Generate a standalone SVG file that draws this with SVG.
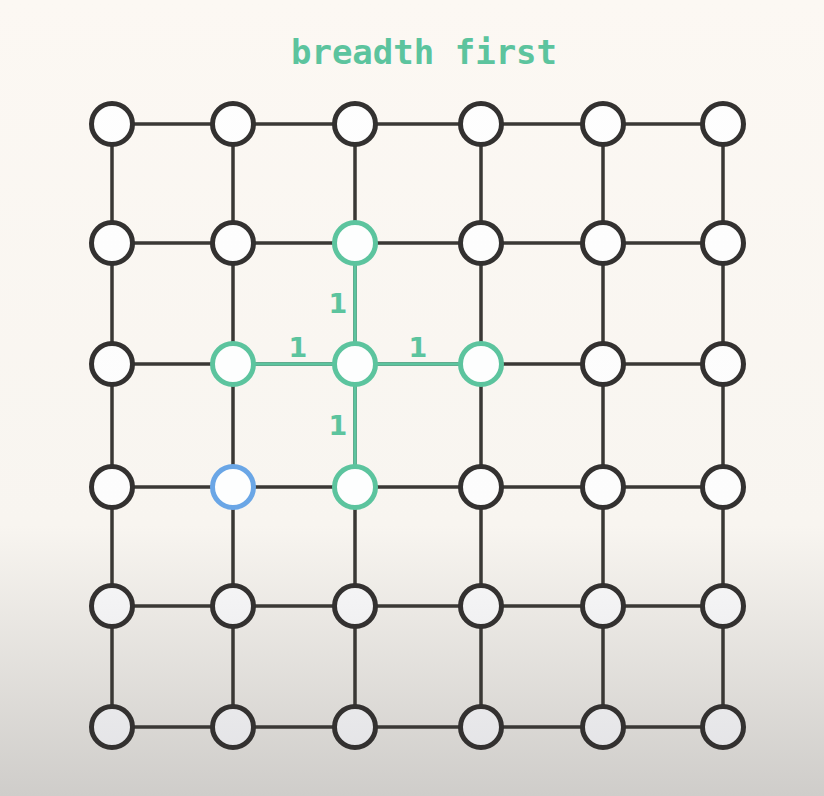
<svg xmlns="http://www.w3.org/2000/svg" width="824" height="796" viewBox="0 0 824 796">
<defs>
<linearGradient id="bg" x1="0" y1="0" x2="0" y2="796" gradientUnits="userSpaceOnUse">
<stop offset="0" stop-color="#fcf8f3"/>
<stop offset="0.66" stop-color="#f8f5f0"/>
<stop offset="1" stop-color="#cfcdca"/>
</linearGradient>
<linearGradient id="nf" x1="0" y1="0" x2="0" y2="796" gradientUnits="userSpaceOnUse">
<stop offset="0" stop-color="#fefefe"/>
<stop offset="0.64" stop-color="#fcfcfc"/>
<stop offset="1" stop-color="#e0e0e3"/>
</linearGradient>
</defs>
<style>
.e{stroke:#3a3835;stroke-width:3.5;fill:none}
.g{stroke:#5cc49e;stroke-width:3.5;fill:none}
.n{fill:url(#nf);stroke:#333130;stroke-width:5}
.ng{fill:#fdfefe;stroke:#5cc49e;stroke-width:5}
.nb{fill:#fdfefe;stroke:#6aa6e6;stroke-width:5}
.t{font-family:"DejaVu Sans Mono","Liberation Mono",monospace;font-weight:bold;font-size:34px;fill:#5cc49e}
.l{font-family:"DejaVu Sans","Liberation Sans",sans-serif;font-weight:bold;font-size:27px;fill:#5cc49e;text-anchor:middle}
</style>
<rect width="824" height="796" fill="url(#bg)"/>
<text class="t" x="424" y="64" text-anchor="middle">breadth first</text>
<g id="connectors">
<path class="e" d="M112,124H723M112,243H723M112,364H723M112,487H723M112,606H723M112,727H723M112,124V727M233,124V727M355,124V727M481,124V727M603,124V727M723,124V727"/>
<path class="g" d="M355,243V487M233,364H481"/>
</g>
<g id="labels">
<text class="l" x="298" y="357">1</text>
<text class="l" x="418" y="357">1</text>
<text class="l" x="338" y="313">1</text>
<text class="l" x="338" y="435">1</text>
</g>
<g id="n00"><circle class="n" cx="112" cy="124" r="20.5"/></g>
<g id="n01"><circle class="n" cx="233" cy="124" r="20.5"/></g>
<g id="n02"><circle class="n" cx="355" cy="124" r="20.5"/></g>
<g id="n03"><circle class="n" cx="481" cy="124" r="20.5"/></g>
<g id="n04"><circle class="n" cx="603" cy="124" r="20.5"/></g>
<g id="n05"><circle class="n" cx="723" cy="124" r="20.5"/></g>
<g id="n10"><circle class="n" cx="112" cy="243" r="20.5"/></g>
<g id="n11"><circle class="n" cx="233" cy="243" r="20.5"/></g>
<g id="n12"><circle class="ng" cx="355" cy="243" r="20.5"/></g>
<g id="n13"><circle class="n" cx="481" cy="243" r="20.5"/></g>
<g id="n14"><circle class="n" cx="603" cy="243" r="20.5"/></g>
<g id="n15"><circle class="n" cx="723" cy="243" r="20.5"/></g>
<g id="n20"><circle class="n" cx="112" cy="364" r="20.5"/></g>
<g id="n21"><circle class="ng" cx="233" cy="364" r="20.5"/></g>
<g id="n22"><circle class="ng" cx="355" cy="364" r="20.5"/></g>
<g id="n23"><circle class="ng" cx="481" cy="364" r="20.5"/></g>
<g id="n24"><circle class="n" cx="603" cy="364" r="20.5"/></g>
<g id="n25"><circle class="n" cx="723" cy="364" r="20.5"/></g>
<g id="n30"><circle class="n" cx="112" cy="487" r="20.5"/></g>
<g id="n31"><circle class="nb" cx="233" cy="487" r="20.5"/></g>
<g id="n32"><circle class="ng" cx="355" cy="487" r="20.5"/></g>
<g id="n33"><circle class="n" cx="481" cy="487" r="20.5"/></g>
<g id="n34"><circle class="n" cx="603" cy="487" r="20.5"/></g>
<g id="n35"><circle class="n" cx="723" cy="487" r="20.5"/></g>
<g id="n40"><circle class="n" cx="112" cy="606" r="20.5"/></g>
<g id="n41"><circle class="n" cx="233" cy="606" r="20.5"/></g>
<g id="n42"><circle class="n" cx="355" cy="606" r="20.5"/></g>
<g id="n43"><circle class="n" cx="481" cy="606" r="20.5"/></g>
<g id="n44"><circle class="n" cx="603" cy="606" r="20.5"/></g>
<g id="n45"><circle class="n" cx="723" cy="606" r="20.5"/></g>
<g id="n50"><circle class="n" cx="112" cy="727" r="20.5"/></g>
<g id="n51"><circle class="n" cx="233" cy="727" r="20.5"/></g>
<g id="n52"><circle class="n" cx="355" cy="727" r="20.5"/></g>
<g id="n53"><circle class="n" cx="481" cy="727" r="20.5"/></g>
<g id="n54"><circle class="n" cx="603" cy="727" r="20.5"/></g>
<g id="n55"><circle class="n" cx="723" cy="727" r="20.5"/></g>
</svg>
